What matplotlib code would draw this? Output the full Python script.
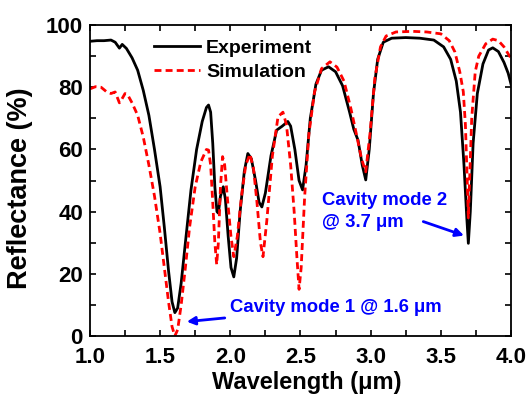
import matplotlib
matplotlib.use('Agg')
import matplotlib.pyplot as plt
from matplotlib.ticker import MultipleLocator

# values
exp_wavelength = [1.00, 1.05, 1.10, 1.15, 1.18, 1.21, 1.23, 1.26, 1.30, 1.34,
                  1.38, 1.42, 1.46, 1.50, 1.53, 1.56, 1.585, 1.605, 1.625, 1.65,
                  1.68, 1.72, 1.76, 1.80, 1.83, 1.845, 1.86, 1.875, 1.89, 1.905,
                  1.915, 1.93, 1.95, 1.965, 1.985, 2.005, 2.025, 2.045, 2.07, 2.10,
                  2.125, 2.15, 2.18, 2.205, 2.225, 2.25, 2.29, 2.33, 2.37, 2.41,
                  2.43, 2.46, 2.49, 2.515, 2.54, 2.57, 2.61, 2.65, 2.70, 2.75,
                  2.80, 2.85, 2.88, 2.91, 2.94, 2.965, 2.99, 3.02, 3.05, 3.09,
                  3.15, 3.25, 3.35, 3.45, 3.52, 3.57, 3.61, 3.64, 3.665, 3.685,
                  3.696, 3.71, 3.73, 3.76, 3.80, 3.84, 3.87, 3.91, 3.95, 3.98, 4.00]
exp_reflectance = [94.8, 95.0, 95.0, 95.2, 94.5, 92.6, 93.8, 92.5, 89.5, 85.5,
                   79, 71, 60, 48, 35, 21, 11, 7.5, 9, 17,
                   30, 47, 60, 69, 73.5, 74.3, 72, 62, 48, 40,
                   39.5, 45, 48, 44, 32, 22, 19, 25, 40, 53,
                   58.7, 57, 50, 43, 41.5, 46, 58, 66.2, 67.5, 69,
                   67.5, 60, 50, 47, 55, 70, 81, 85.5, 86.6, 85,
                   80.5, 72, 66.5, 63, 55, 50.2, 60, 78, 89, 94.5,
                   95.8, 96, 95.8, 95.2, 93, 89, 82, 72, 55, 38,
                   29.8, 40, 62, 78, 87.5, 92, 92.7, 91.5, 88, 84.5, 81]

sim_wavelength = [1.00, 1.04, 1.08, 1.12, 1.15, 1.18, 1.21, 1.225, 1.25, 1.27,
                  1.30, 1.34, 1.38, 1.42, 1.46, 1.50, 1.53, 1.56, 1.585, 1.605,
                  1.625, 1.65, 1.68, 1.71, 1.75, 1.79, 1.83, 1.845, 1.86, 1.875,
                  1.89, 1.903, 1.915, 1.93, 1.945, 1.96, 1.98, 2.005, 2.025, 2.05,
                  2.08, 2.11, 2.14, 2.165, 2.19, 2.215, 2.233, 2.26, 2.30, 2.34,
                  2.375, 2.40, 2.43, 2.455, 2.475, 2.49, 2.505, 2.53, 2.56, 2.60,
                  2.65, 2.71, 2.76, 2.81, 2.86, 2.90, 2.935, 2.965, 2.995, 3.03,
                  3.07, 3.11, 3.18, 3.30, 3.40, 3.50, 3.56, 3.60, 3.635, 3.66,
                  3.675, 3.688, 3.696, 3.705, 3.72, 3.745, 3.77, 3.82, 3.87, 3.91,
                  3.95, 3.99, 4.00]
sim_reflectance = [79.5, 80.2, 80, 78.5, 78, 78.5, 75, 76, 78, 77.5,
                   75, 71, 64, 55, 45, 33, 22, 11, 3, 0,
                   2, 10, 22, 35, 48, 56, 60, 59.8, 55, 43,
                   30, 23, 30, 48, 57.7, 55, 44, 32, 25.5, 32,
                   45, 55, 58.5, 54, 43, 30, 25.5, 37, 58, 70.5,
                   72, 68, 55, 40, 25, 15, 22, 45, 65, 78.5,
                   86, 88.2, 86.5, 82, 73, 64.6, 57, 52.8, 65, 83,
                   93, 96.5, 97.8, 98, 97.8, 97.2, 95, 91.4, 85, 78.6,
                   68, 50, 38, 50, 70, 85, 90, 94, 95.5, 95,
                   93, 90, 89.5]

x_ticks = [1.0, 1.5, 2.0, 2.5, 3.0, 3.5, 4.0]
y_ticks = [0, 20, 40, 60, 80, 100]

plt.rcParams['font.family'] = ['Liberation Sans', 'DejaVu Sans']
plt.rcParams['font.weight'] = 'bold'

fig = plt.figure(figsize=(5.29, 3.99), dpi=100)
ax = fig.add_axes([0.170, 0.158, 0.796, 0.779])

ax.plot(exp_wavelength, exp_reflectance, color='black', lw=2.0, label='Experiment')
ax.plot(sim_wavelength, sim_reflectance, color='red', lw=2.0, ls=(0, (2.5, 1.5)),
        label='Simulation')

ax.set_xlim(1.0, 4.0)
ax.set_ylim(0, 100)
ax.set_xticks(x_ticks)
ax.set_xticklabels([f"{t:.1f}" for t in x_ticks])
ax.set_yticks(y_ticks)
ax.set_yticklabels([str(t) for t in y_ticks])
ax.xaxis.set_minor_locator(MultipleLocator(0.25))
ax.yaxis.set_minor_locator(MultipleLocator(10))
ax.tick_params(which='both', direction='in', top=True, right=True, width=1.2)
ax.tick_params(which='major', length=4, labelsize=16)
ax.tick_params(axis='x', which='major', pad=8)
ax.tick_params(axis='y', which='major', pad=5)
ax.tick_params(which='minor', length=4)
for spine in ax.spines.values():
    spine.set_linewidth(1.3)

ax.set_xlabel('Wavelength (μm)', fontsize=17, fontweight='bold')
ax.set_ylabel('Reflectance (%)', fontsize=19.5, fontweight='bold')
ax.xaxis.set_label_coords(0.514, -0.112)
ax.yaxis.set_label_coords(-0.135, 0.476)

ax.legend(loc='upper left', bbox_to_anchor=(0.11, 1.01), frameon=False,
          fontsize=14, handlelength=2.4, handletextpad=0.3, labelspacing=0.3)

# cavity mode notes
ax.annotate('Cavity mode 1 @ 1.6 μm', xy=(1.69, 4.6), xytext=(2.0, 9.3),
            color='blue', fontsize=13.3, fontweight='bold', va='center',
            arrowprops=dict(arrowstyle='-|>', color='blue', lw=2, shrinkA=2, shrinkB=0,
                            mutation_scale=12))
ax.text(2.65, 40, 'Cavity mode 2\n@ 3.7 μm', color='blue', fontsize=13.3,
        fontweight='bold', va='center', linespacing=1.4)
ax.annotate('', xy=(3.665, 32.3), xytext=(3.375, 36.8),
            arrowprops=dict(arrowstyle='-|>', color='blue', lw=2, shrinkA=0, shrinkB=0,
                            mutation_scale=12))

fig.savefig('out.png', dpi=100)
